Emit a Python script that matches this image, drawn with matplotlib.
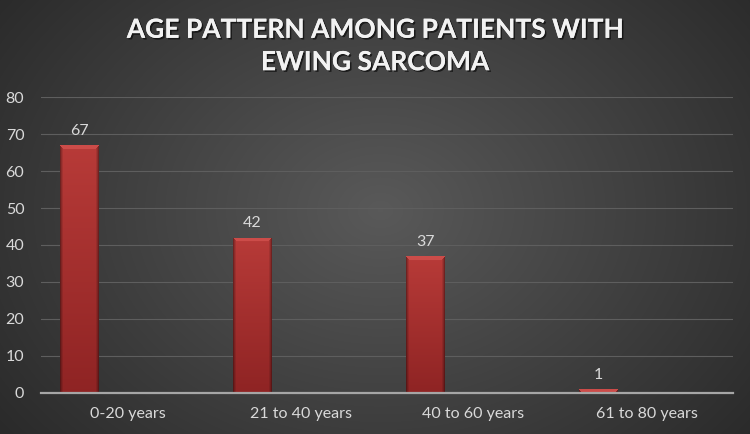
import numpy as np
import matplotlib.pyplot as plt
from matplotlib import patheffects as pe

categories = ["0-20 years", "21 to 40 years", "40 to 60 years", "61 to 80 years"]
counts = [67, 42, 37, 1]
y_ticks = [0, 10, 20, 30, 40, 50, 60, 70, 80]
title = "AGE PATTERN AMONG PATIENTS WITH\nEWING SARCOMA"

BAR_W = 0.223
BAR_OFF = -0.28
TXT = "#d9d9d9"

plt.rcParams["font.family"] = ["Lato", "DejaVu Sans"]

fig = plt.figure(figsize=(7.5, 4.34), dpi=100)

# radial background
bg = fig.add_axes([0, 0, 1, 1], zorder=-10)
yy, xx = np.mgrid[0:434, 0:750]
r = np.sqrt(((xx - 380) / 430.0) ** 2 + ((yy - 210) / 330.0) ** 2)
lum = 0.35 - 0.20 * np.clip(r, 0, 1.2) / 1.2
bg.imshow(np.dstack([lum, lum, lum]), aspect="auto", extent=[0, 1, 0, 1],
          interpolation="bilinear")
bg.set_axis_off()

ax = fig.add_axes([0.0547, 0.0952, 0.9226, 0.6806])
ax.patch.set_alpha(0)
x = np.arange(len(categories))
bars = ax.bar(x + BAR_OFF, counts, width=BAR_W, color="#b13432", zorder=3)

# bevelled gradient for each bar
top_c = np.array([0.80, 0.30, 0.29])
mid_c = np.array([0.72, 0.23, 0.22])
bot_c = np.array([0.56, 0.14, 0.14])
for b, v in zip(bars, counts):
    h = max(int(v * 3.69), 4)
    w = 39
    t = np.linspace(0, 1, h)[:, None, None]
    col = mid_c * (1 - t) + bot_c * t
    col = np.repeat(col, w, axis=1)
    edge = np.ones(w)
    edge[:3] = [0.62, 0.78, 0.9]
    edge[-3:] = [0.9, 0.78, 0.62]
    col = col * edge[None, :, None]
    bev = min(4, h)
    for k in range(bev):
        col[k, k:w - k] = top_c
    im = ax.imshow(col, extent=[b.get_x(), b.get_x() + b.get_width(), 0, v],
                   aspect="auto", zorder=4, interpolation="bilinear")
    im.set_clip_path(b)
    ax.text(b.get_x() + b.get_width() / 2, v + 2.0, str(v), ha="center",
            va="bottom", color=TXT, fontsize=11.5)

ax.set_xlim(-0.5, len(categories) - 0.5)
ax.set_ylim(0, 80)
ax.set_yticks(y_ticks)
ax.set_xticks(x)
ax.set_xticklabels(categories)
ax.tick_params(axis="both", length=0, colors=TXT, labelsize=11.5)
ax.tick_params(axis="y", pad=12)
ax.tick_params(axis="x", pad=10)
ax.grid(axis="y", color="#5e5e5e", linewidth=0.8, zorder=0)
ax.set_axisbelow(True)
for s in ["top", "right", "left"]:
    ax.spines[s].set_visible(False)
ax.spines["bottom"].set_color("#a6a6a6")
ax.spines["bottom"].set_linewidth(1.6)
ax.spines["bottom"].set_zorder(5)

fig.text(0.5, 0.894, title, ha="center", va="center", color="#f2f2f2",
         fontsize=19, fontweight="bold", linespacing=1.42,
         path_effects=[pe.withSimplePatchShadow(offset=(1.2, -1.2),
                                                shadow_rgbFace="black", alpha=0.6),
                       pe.Normal()])

fig.savefig("out.png", dpi=100)
